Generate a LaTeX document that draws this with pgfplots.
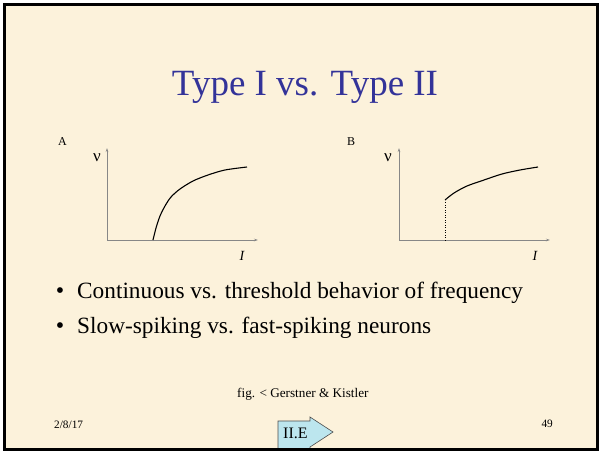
\documentclass[border=0pt]{standalone}
\usepackage{fontspec}
\setmainfont{Liberation Serif}
\usepackage{pgfplots}
\pgfplotsset{compat=1.18}
\usetikzlibrary{arrows.meta}
\definecolor{parch}{RGB}{252,242,219}
\definecolor{titleblue}{RGB}{51,51,153}
\definecolor{arrowfill}{RGB}{188,230,238}
\definecolor{axisgray}{RGB}{135,135,135}

\pgfplotsset{fig/.style={
    scale only axis, width=151pt, height=92pt,
    xmin=0, xmax=151, ymin=0, ymax=92,
    axis lines=left, ticks=none, clip=false,
    anchor=south west,
    axis line style={axisgray, line width=0.6pt, -{Stealth[length=4pt,width=2.5pt]}},
}}

\begin{document}
\begin{tikzpicture}[x=1pt,y=1pt]
\clip (0,0) rectangle (601,-452);
\fill[white] (0,0) rectangle (601,-452);
\fill[parch] (4.5,-4.5) rectangle (597.5,-449.5);

% title
\node[anchor=base, text=titleblue, font=\fontsize{37}{40}\selectfont] at (305,-95) {Type I vs. Type II};

% panel letters
\node[anchor=base west, font=\fontsize{12}{12}\selectfont, inner sep=0] at (58,-145) {A};
\node[anchor=base west, font=\fontsize{12}{12}\selectfont, inner sep=0] at (347,-145) {B};

% panel A: continuous onset
\begin{axis}[fig, at={(107pt,-240pt)}]
\addplot[black, line width=1.1pt, smooth] coordinates {
    (46,0) (49,12) (53,24) (58,34) (64,43) (73,51) (86,59) (101,65) (118,70) (140,73)
};
\node[anchor=base, font=\fontsize{17}{17}\selectfont] at (axis cs:-10,78) {ν};
\node[anchor=base, font=\fontsize{14}{14}\selectfont\itshape] at (axis cs:135,-20) {I};
\end{axis}

% panel B: jump at threshold
\begin{axis}[fig, at={(399pt,-240pt)}]
\addplot[black, line width=0.5pt, dotted] coordinates {(46,0) (46,40)};
\addplot[black, line width=1.1pt, smooth] coordinates {
    (46,40) (55,47) (68,54) (85,60) (103,66) (121,70) (139,73)
};
\node[anchor=base, font=\fontsize{17}{17}\selectfont] at (axis cs:-11,78) {ν};
\node[anchor=base, font=\fontsize{14}{14}\selectfont\itshape] at (axis cs:136,-20) {I};
\end{axis}

% bullets
\node[anchor=base, font=\fontsize{24}{24}\selectfont, inner sep=0] at (60,-298) {\textbullet};
\node[anchor=base west, font=\fontsize{23.3}{24}\selectfont, inner sep=0] at (77,-298) {Continuous vs. threshold behavior of frequency};
\node[anchor=base, font=\fontsize{24}{24}\selectfont, inner sep=0] at (60,-333) {\textbullet};
\node[anchor=base west, font=\fontsize{23.3}{24}\selectfont, inner sep=0] at (77,-333) {Slow-spiking vs. fast-spiking neurons};

% footer
\node[anchor=base west, font=\fontsize{13.2}{14}\selectfont, inner sep=0] at (237,-397) {fig. < Gerstner \& Kistler};
\node[anchor=base west, font=\fontsize{11.3}{12}\selectfont, inner sep=0] at (54,-428) {2/8/17};
\node[anchor=base east, font=\fontsize{11.3}{12}\selectfont, inner sep=0] at (553,-427) {49};

% link arrow, cut off by the slide edge
\begin{scope}
\clip (4.5,-4.5) rectangle (597.5,-449.5);
\draw[fill=arrowfill, draw=black!70, line width=0.6pt]
  (278,-421) -- (310,-421) -- (310,-417) -- (333,-432) -- (310,-447) -- (310,-460) -- (278,-460) -- cycle;
\end{scope}
\node[anchor=base west, font=\fontsize{16}{16}\selectfont, inner sep=0] at (283,-438) {II.E};

% slide frame
\draw[black, line width=3pt] (4.5,-4.5) rectangle (597.5,-449.5);
\end{tikzpicture}
\end{document}
